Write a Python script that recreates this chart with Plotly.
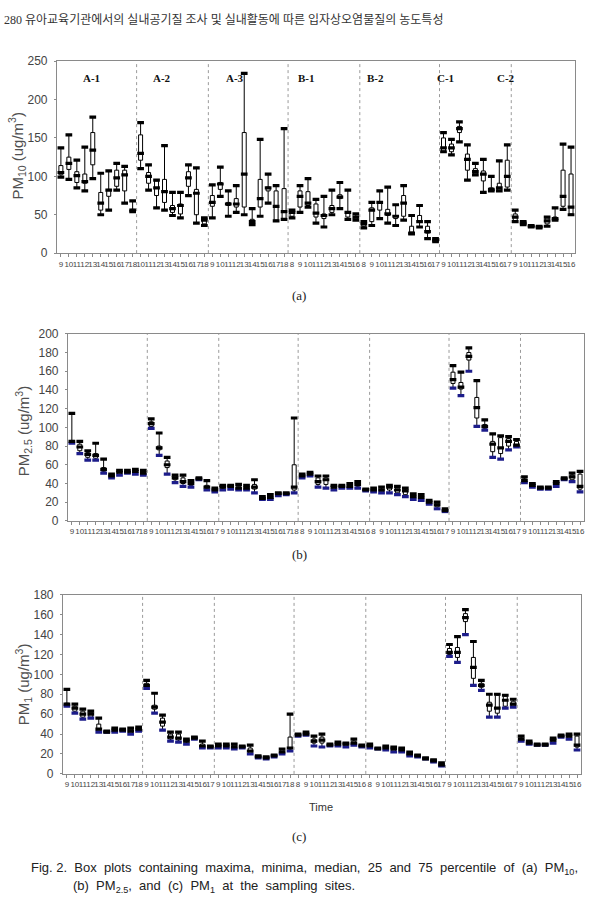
import plotly.graph_objects as go

# ---------------- data ----------------
site_names = ["A-1", "A-2", "A-3", "B-1", "B-2", "C-1", "C-2"]
group_sizes = [10, 9, 10, 9, 10, 9, 8]

hours_a = ([9, 10, 11, 12, 13, 14, 15, 16, 17, 18] + [10, 11, 12, 13, 14, 15, 16, 17, 18]
           + [9, 10, 11, 12, 13, 14, 15, 16, 17, 18] + [8, 9, 10, 11, 12, 13, 14, 15, 16]
           + [8, 9, 10, 11, 12, 13, 14, 15, 16, 17] + [9, 10, 11, 12, 13, 14, 15, 16, 17]
           + [9, 10, 11, 12, 13, 14, 15, 16])
hours_bc = ([9, 10, 11, 12, 13, 14, 15, 16, 17, 18] + [9, 10, 11, 12, 13, 14, 15, 16, 17]
            + [9, 10, 11, 12, 13, 14, 15, 16, 17, 18] + [8, 9, 10, 11, 12, 13, 14, 15, 16]
            + [8, 9, 10, 11, 12, 13, 14, 15, 16, 17] + [9, 10, 11, 12, 13, 14, 15, 16, 17]
            + [9, 10, 11, 12, 13, 14, 15, 16])

# PM10  (max, q3, median, q1, min)
pm10_max = [137, 154, 121, 138, 177, 104, 107, 117, 113, 68,
            170, 115, 95, 140, 79, 79, 115, 111, 46,
            89, 112, 81, 88, 234, 58, 148, 103, 88, 162,
            56, 88, 97, 70, 74, 82, 92, 82, 51,
            41, 66, 81, 86, 63, 88, 49, 62, 41, 19,
            157, 148, 171, 141, 117, 122, 100, 120, 141,
            56, 41, 36, 35, 47, 59, 142, 138]
pm10_q3 = [114, 125, 106, 103, 157, 79, 83, 108, 108, 57,
           154, 105, 94, 96, 62, 64, 106, 83, 45,
           75, 92, 66, 71, 157, 44, 96, 86, 81, 84,
           54, 81, 80, 64, 51, 62, 76, 53, 47,
           40, 59, 66, 57, 49, 75, 35, 49, 35, 18,
           150, 142, 165, 129, 110, 107, 85, 91, 121,
           51, 40, 35, 35, 46, 47, 108, 103]
pm10_med = [105, 117, 101, 93, 134, 65, 82, 98, 102, 56,
            130, 100, 85, 80, 58, 62, 98, 78, 43,
            66, 90, 64, 64, 103, 41, 71, 85, 61, 54,
            53, 74, 65, 52, 49, 58, 73, 53, 47,
            38, 56, 66, 51, 48, 65, 26, 41, 28, 17,
            137, 137, 162, 122, 106, 103, 83, 85, 100,
            47, 39, 35, 34, 42, 45, 74, 60]
pm10_q1 = [102, 109, 92, 91, 115, 56, 74, 87, 81, 54,
           121, 91, 75, 66, 53, 51, 87, 50, 38,
           61, 83, 62, 60, 60, 39, 60, 81, 43, 44,
           48, 60, 62, 47, 45, 53, 71, 47, 43,
           35, 41, 56, 49, 45, 48, 26, 40, 26, 15,
           133, 132, 157, 108, 103, 94, 81, 81, 86,
           41, 38, 34, 34, 38, 43, 61, 51]
pm10_min = [99, 96, 85, 81, 97, 50, 56, 82, 65, 54,
            110, 82, 59, 56, 49, 46, 75, 39, 36,
            46, 74, 48, 53, 50, 37, 48, 65, 42, 44,
            46, 53, 60, 39, 34, 50, 58, 44, 43,
            33, 36, 45, 39, 36, 43, 25, 34, 19, 15,
            132, 128, 145, 95, 102, 79, 81, 81, 82,
            41, 37, 34, 33, 35, 43, 57, 50]

# PM2.5
pm25_max = [115, 85, 75, 83, 66, 50, 54, 54, 55, 54,
            109, 94, 68, 49, 49, 43, 46, 43, 35,
            38, 38, 39, 38, 44, 26, 28, 30, 30, 110,
            50, 52, 48, 48, 38, 38, 40, 42, 34,
            35, 36, 38, 37, 35, 29, 28, 22, 20, 13,
            166, 159, 185, 150, 108, 93, 91, 90, 87,
            47, 40, 36, 36, 42, 46, 51, 53]
pm25_q3 = [86, 82, 73, 72, 57, 49, 53, 53, 54, 52,
           106, 80, 64, 48, 46, 42, 46, 38, 34,
           37, 37, 37, 36, 39, 25, 26, 30, 30, 60,
           49, 51, 46, 46, 37, 38, 38, 40, 34,
           34, 34, 37, 35, 33, 28, 26, 21, 19, 12,
           159, 148, 180, 132, 103, 85, 89, 88, 85,
           45, 39, 36, 36, 41, 46, 49, 50]
pm25_med = [85, 79, 71, 70, 55, 48, 52, 52, 53, 51,
            104, 78, 60, 46, 42, 40, 45, 36, 33,
            36, 37, 35, 35, 36, 24, 25, 29, 29, 36,
            48, 50, 42, 44, 36, 37, 37, 39, 33,
            33, 33, 36, 33, 32, 26, 25, 20, 17, 11,
            151, 143, 176, 121, 101, 82, 78, 85, 81,
            43, 38, 35, 35, 40, 45, 47, 37]
pm25_q1 = [84, 75, 68, 67, 53, 47, 50, 51, 51, 50,
           101, 76, 57, 44, 40, 38, 44, 35, 32,
           35, 35, 34, 34, 34, 23, 24, 28, 28, 33,
           47, 49, 39, 39, 34, 36, 36, 37, 32,
           32, 31, 33, 30, 28, 24, 23, 19, 15, 10,
           147, 141, 172, 110, 99, 74, 72, 80, 80,
           42, 37, 35, 35, 38, 45, 44, 34]
pm25_min = [83, 72, 65, 65, 51, 46, 49, 51, 50, 49,
            99, 70, 50, 41, 37, 36, 44, 33, 31,
            33, 34, 33, 33, 30, 23, 23, 27, 28, 30,
            46, 48, 36, 35, 33, 35, 35, 35, 32,
            31, 30, 30, 28, 26, 23, 22, 18, 13, 10,
            142, 134, 160, 101, 97, 68, 66, 76, 79,
            41, 36, 34, 34, 37, 44, 42, 31]

# PM1
pm1_max = [85, 70, 65, 63, 56, 43, 46, 45, 46, 47,
           94, 81, 59, 42, 42, 35, 37, 33, 28,
           30, 30, 30, 28, 29, 18, 17, 19, 25, 60,
           40, 42, 38, 40, 30, 32, 31, 35, 29,
           30, 26, 28, 27, 26, 22, 19, 16, 14, 11,
           130, 138, 165, 133, 94, 80, 80, 79, 75,
           38, 33, 30, 30, 36, 39, 40, 40]
pm1_q3 = [71, 68, 63, 62, 50, 43, 45, 44, 45, 46,
          91, 69, 56, 40, 40, 34, 37, 30, 28,
          29, 29, 29, 28, 26, 17, 16, 19, 24, 37,
          39, 41, 35, 37, 30, 31, 31, 33, 28,
          29, 26, 27, 26, 25, 21, 19, 16, 14, 10,
          126, 127, 161, 117, 91, 72, 79, 78, 73,
          36, 32, 30, 30, 35, 38, 39, 38]
pm1_med = [70, 66, 60, 60, 45, 42, 44, 44, 43, 45,
           89, 67, 52, 37, 36, 33, 36, 28, 27,
           28, 28, 27, 27, 23, 17, 16, 18, 22, 26,
           39, 40, 33, 34, 29, 30, 30, 31, 28,
           28, 25, 26, 25, 24, 20, 18, 15, 13, 9,
           122, 122, 157, 107, 89, 69, 66, 74, 70,
           35, 31, 29, 29, 34, 38, 38, 29]
pm1_q1 = [69, 63, 57, 57, 43, 42, 43, 43, 41, 44,
          87, 65, 48, 35, 34, 32, 35, 27, 26,
          27, 27, 26, 26, 21, 16, 15, 17, 21, 25,
          38, 39, 31, 31, 28, 29, 28, 30, 27,
          27, 25, 25, 23, 23, 19, 18, 15, 13, 9,
          120, 117, 153, 96, 87, 63, 61, 68, 68,
          34, 31, 29, 29, 32, 37, 36, 27]
pm1_min = [68, 61, 55, 56, 42, 42, 42, 43, 40, 43,
           86, 61, 44, 33, 32, 30, 35, 26, 26,
           26, 26, 25, 26, 20, 16, 15, 17, 20, 23,
           38, 39, 28, 27, 28, 28, 27, 29, 27,
           26, 25, 24, 22, 22, 18, 17, 15, 12, 8,
           118, 112, 140, 89, 84, 57, 57, 66, 67,
           33, 30, 29, 29, 31, 37, 35, 24]

site_label_x = [3.9, 12.7, 21.8, 30.8, 39.5, 48.3, 55.9]

# ---------------- figure ----------------
W, H = 589, 901
fig = go.Figure()

AXIS_COLOR = "#8a8a8a"
TXT = "#444444"
SANS = "Liberation Sans, Arial, sans-serif"
SERIF = "Liberation Serif, Times New Roman, serif"

def px_dom(a, b, total):
    return [a / total, b / total]

panels = [
    ("x", "y", (57, 576), (55, 250), 250, 50,
     (pm10_max, pm10_q3, pm10_med, pm10_q1, pm10_min), hours_a, "black"),
    ("x2", "y2", (68, 585), (332, 522), 200, 20,
     (pm25_max, pm25_q3, pm25_med, pm25_q1, pm25_min), hours_bc, "#1c1c8a"),
    ("x3", "y3", (63, 582), (597, 779), 180, 20,
     (pm1_max, pm1_q3, pm1_med, pm1_q1, pm1_min), hours_bc, "#1c1c8a"),
]

boundaries = []
acc = 0
for s in group_sizes[:-1]:
    acc += s
    boundaries.append(acc - 0.5)

n = sum(group_sizes)
xs = list(range(n))

layout_axes = {}
shapes = []
for i, (xa, ya, (xl, xr), (yt, yb), ymax, dt, d, hrs, mincol) in enumerate(panels):
    mx, q3, md, q1, mn = d
    fig.add_trace(go.Box(
        x=xs, q1=q1, median=md, q3=q3, lowerfence=mn, upperfence=mx,
        xaxis=xa, yaxis=ya, fillcolor="white",
        line=dict(color="black", width=1), whiskerwidth=0, width=0.5,
        boxpoints=False, showlegend=False, hoverinfo="skip"))
    for vals, col in [(mn, mincol), (md, "black"), (mx, "black")]:
        fig.add_trace(go.Scatter(
            x=xs, y=vals, mode="markers", xaxis=xa, yaxis=ya,
            marker=dict(symbol="line-ew", size=4.8, line=dict(width=3.2, color=col)),
            showlegend=False, hoverinfo="skip"))
    suffix = "" if i == 0 else str(i + 1)
    layout_axes["xaxis" + suffix] = dict(
        domain=px_dom(xl, xr, W), anchor=ya, range=[-0.5, n - 0.5],
        tickmode="array", tickvals=xs, ticktext=[str(h) for h in hrs],
        tickangle=0, ticks="outside", ticklen=3, tickcolor=AXIS_COLOR,
        tickfont=dict(size=8, color=TXT, family=SANS),
        showline=True, linecolor=AXIS_COLOR, linewidth=1, mirror=True,
        showgrid=False, zeroline=False)
    layout_axes["yaxis" + suffix] = dict(
        domain=[1 - yb / H, 1 - yt / H], anchor=xa, range=[0, ymax],
        tickmode="linear", tick0=0, dtick=dt, ticks="outside", ticklen=2,
        tickcolor=AXIS_COLOR, ticklabelstandoff=4,
        tickfont=dict(size=12, color=TXT, family=SANS),
        showline=True, linecolor=AXIS_COLOR, linewidth=1, mirror=True,
        showgrid=False, zeroline=False)
    for b in boundaries:
        shapes.append(dict(type="line", xref=xa, yref=ya + " domain",
                           x0=b, x1=b, y0=0, y1=1,
                           line=dict(color="#9a9a9a", width=1, dash="dot")))

annotations = []
for name, lx in zip(site_names, site_label_x):
    annotations.append(dict(x=lx, y=228, xref="x", yref="y", text="<b>" + name + "</b>",
                            showarrow=False, font=dict(family=SERIF, size=11, color="#111")))

def ann_px(x, y, text, size, family, color=TXT, angle=0, xanchor="center"):
    annotations.append(dict(x=x / W, y=1 - y / H, xref="paper", yref="paper", text=text,
                            showarrow=False, textangle=angle, xanchor=xanchor, yanchor="middle",
                            font=dict(size=size, family=family, color=color)))

ann_px(17, 151, "PM<sub>10</sub> (ug/m<sup>3</sup>)", 15, SANS, "#505050", -90)
ann_px(23, 431, "PM<sub>2.5</sub> (ug/m<sup>3</sup>)", 15, SANS, "#505050", -90)
ann_px(23, 688, "PM<sub>1</sub> (ug/m<sup>3</sup>)", 15, SANS, "#505050", -90)
ann_px(300, 293, "(a)", 13, SERIF, "#222")
ann_px(300, 556, "(b)", 13, SERIF, "#222")
ann_px(300, 843, "(c)", 13, SERIF, "#222")
ann_px(322, 813, "Time", 11, SANS, "#333")
ann_px(2, 13, "280 유아교육기관에서의 실내공기질 조사 및 실내활동에 따른 입자상오염물질의 농도특성",
       12, "Liberation Serif, Noto Sans CJK KR, serif", "#333", xanchor="left")
ann_px(29, 875, "Fig. 2.  Box  plots  containing  maxima,  minima,  median,  25  and  75  percentile  of  (a)  PM<sub>10</sub>,",
       13, SANS, "#222", xanchor="left")
ann_px(71, 893, "(b)  PM<sub>2.5</sub>,  and  (c)  PM<sub>1</sub>  at  the  sampling  sites.",
       13, SANS, "#222", xanchor="left")

fig.update_layout(
    width=W, height=H, margin=dict(l=0, r=0, t=0, b=0),
    paper_bgcolor="white", plot_bgcolor="white", showlegend=False,
    shapes=shapes, annotations=annotations, **layout_axes)

fig.write_html("out.html")
